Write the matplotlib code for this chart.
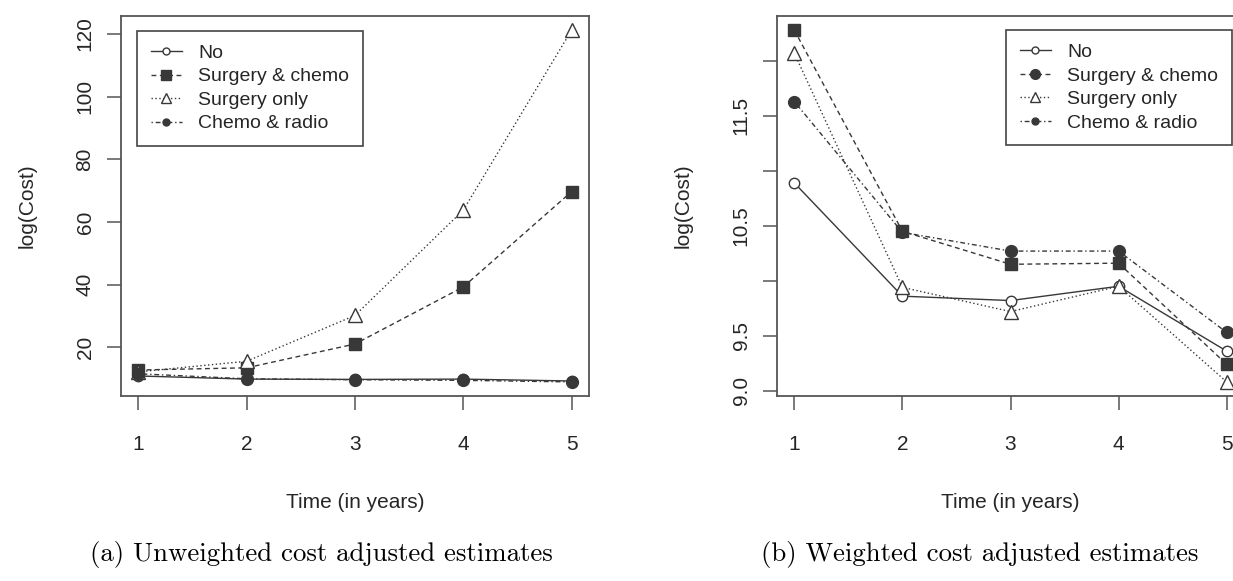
import matplotlib
matplotlib.use("Agg")
import matplotlib.pyplot as plt
from matplotlib.lines import Line2D

# ---------------- data ----------------
years = [1, 2, 3, 4, 5]
series_names = ["No", "Surgery & chemo", "Surgery only", "Chemo & radio"]

# (a) unweighted
no_unw = [10.9, 9.9, 9.8, 9.9, 9.3]
sc_unw = [12.8, 13.5, 21.1, 39.3, 69.7]
so_unw = [12.2, 15.6, 30.2, 63.8, 121.2]
cr_unw = [11.6, 10.0, 9.7, 9.5, 9.0]

# (b) weighted
no_w = [10.89, 9.86, 9.82, 9.95, 9.36]
sc_w = [12.28, 10.45, 10.15, 10.16, 9.24]
so_w = [12.07, 9.94, 9.72, 9.95, 9.08]
cr_w = [11.63, 10.44, 10.27, 10.27, 9.53]

left_yticks = [20, 40, 60, 80, 100, 120]
left_yticklabels = ["20", "40", "60", "80", "100", "120"]
right_yticks = [9.0, 9.5, 10.0, 10.5, 11.0, 11.5, 12.0]
right_yticklabels = ["9.0", "9.5", "", "10.5", "", "11.5", ""]
xticklabels = ["1", "2", "3", "4", "5"]

captions = ["(a) Unweighted cost adjusted estimates",
            "(b) Weighted cost adjusted estimates"]
xlabel = "Time (in years)"
ylabel = "log(Cost)"

# ---------------- style ----------------
plt.rcParams["font.family"] = ["Liberation Sans", "DejaVu Sans"]
LC = "#383838"
SP = "#555555"
TC = "#262626"
W, H = 1233, 581
fig = plt.figure(figsize=(W / 100, H / 100), dpi=100)

styles = [
    dict(ls="-", marker="o", mfc="white", mec=LC),
    dict(ls=(0, (3.5, 2.5)), marker="s", mfc=LC, mec=LC),
    dict(ls=(0, (1, 1.8)), marker="^", mfc="white", mec=LC),
    dict(ls=(0, (1, 2, 3.5, 2)), marker="o", mfc=LC, mec=LC),
]
msizes = [7.5, 8.5, 10, 8.5]


def r_range(vals):
    lo, hi = min(vals), max(vals)
    e = 0.04 * (hi - lo)
    return lo - e, hi + e


def make_axes(rect, data, yticks, yticklabels, legend_markers, legend_anchor, legend_loc):
    ax = fig.add_axes(rect)
    for vals, st, ms in zip(data, styles, msizes):
        ax.plot(years, vals, color=LC, lw=1.0, ms=ms, mew=1.0, **st)
    allv = [v for d in data for v in d]
    ax.set_xlim(*r_range(years))
    ax.set_ylim(*r_range(allv))
    ax.set_xticks(years)
    ax.set_xticklabels(xticklabels, fontsize=15, color=TC)
    ax.set_yticks(yticks)
    ax.set_yticklabels(yticklabels, fontsize=15, rotation=90, va="center", color=TC)
    for s in ax.spines.values():
        s.set_color(SP)
        s.set_linewidth(1.3)
    ax.tick_params(axis="both", direction="out", length=10, width=1.1, color=SP)
    ax.tick_params(axis="x", pad=18)
    ax.tick_params(axis="y", pad=9)
    ax.set_xlabel(xlabel, fontsize=15, labelpad=28, color=TC)
    ax.set_ylabel(ylabel, fontsize=15, labelpad=28, color=TC)

    handles = []
    for st, (mk, fc, ms) in zip(styles, legend_markers):
        handles.append(Line2D([], [], color=LC, lw=1.0, ls=st["ls"], marker=mk,
                              mfc=fc, mec=LC, ms=ms))
    leg = ax.legend(handles, series_names, loc=legend_loc, bbox_to_anchor=legend_anchor,
                    fontsize=14, frameon=True, fancybox=False, framealpha=1,
                    edgecolor="#444444", handlelength=1.6, handletextpad=0.85,
                    borderpad=0.7, labelspacing=0.3, borderaxespad=0)
    leg.get_frame().set_linewidth(1.2)
    for t in leg.get_texts():
        t.set_color(TC)
    return ax


bottom = 1 - 396 / H
height = 380 / H

make_axes([121 / W, bottom, 468 / W, height],
          [no_unw, sc_unw, so_unw, cr_unw], left_yticks, left_yticklabels,
          [("o", "white", 5), ("s", LC, 6.5), ("^", "white", 6.5), ("o", LC, 5)],
          (0.034, 0.961), "upper left")

make_axes([777 / W, bottom, 467 / W, height],
          [no_w, sc_w, so_w, cr_w], right_yticks, right_yticklabels,
          [("o", "white", 5), ("o", LC, 7), ("^", "white", 6.5), ("o", LC, 5)],
          (0.974, 0.963), "upper right")

fig.text(321 / W, 1 - 555 / H, captions[0], family="cmr10", fontsize=19.3,
         ha="center", va="center", color="black")
fig.text(980 / W, 1 - 555 / H, captions[1], family="cmr10", fontsize=19.3,
         ha="center", va="center", color="black")

fig.savefig("out.png", dpi=100, facecolor="white")
